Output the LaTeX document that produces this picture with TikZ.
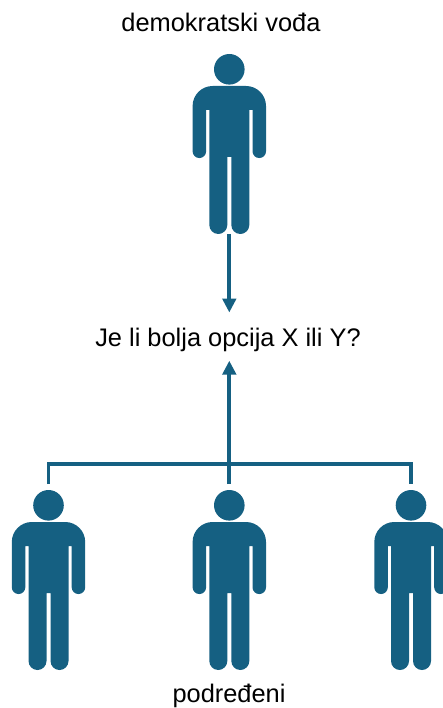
\documentclass[tikz,border=0pt]{standalone}
\usepackage{fontspec}
\setmainfont{Liberation Sans}
\usetikzlibrary{arrows.meta}
\definecolor{persblue}{HTML}{156082}
\tikzset{
  x=1pt,y=1pt,
  person/.pic={
    \fill[persblue] (0,0) circle[radius=15.3pt];
    \fill[persblue] (-16.7,-16.7) -- (16.7,-16.7)
      arc[start angle=90,end angle=0,radius=20pt] -- (36.7,-82)
      arc[start angle=0,end angle=-180,radius=6.75pt] -- (23.2,-40.7) -- (20,-40.7) -- (20,-155.7)
      arc[start angle=0,end angle=-180,radius=9pt] -- (2,-87.7) -- (-2,-87.7) -- (-2,-155.7)
      arc[start angle=0,end angle=-180,radius=9pt] -- (-20,-40.7) -- (-23.2,-40.7) -- (-23.2,-82)
      arc[start angle=0,end angle=-180,radius=6.75pt] -- (-36.7,-36.7)
      arc[start angle=180,end angle=90,radius=20pt] -- cycle;
  },
  label text/.style={inner sep=0pt,outer sep=0pt,font=\fontsize{25.4}{30}\selectfont,text=black},
  slot/.style={inner sep=0pt,outer sep=0pt,minimum width=73.4pt},
  link/.style={draw=persblue,line width=3.2pt},
  shaft/.style={draw=persblue,line width=4pt,-{Triangle[width=13.5pt,length=14pt]}}
}
\begin{document}
\begin{tikzpicture}
\useasboundingbox (0,0) rectangle (443,-708);
\pic at (229.3,-69.3) {person};
\pic at (48.5,-505.3) {person};
\pic at (229.3,-505.3) {person};
\pic at (411,-505.3) {person};
\node[slot,minimum height=180pt] (leader) at (229.3,-144) {};
\node[slot,minimum height=186pt] (subA) at (48.5,-577) {};
\node[slot,minimum height=186pt] (subB) at (229.3,-577) {};
\node[slot,minimum height=186pt] (subC) at (411,-577) {};
\coordinate (bus) at (229.3,-464);
\node[label text,anchor=base] (title) at (221,-31.5) {demokratski vođa};
\node[label text,anchor=base,text height=33.5pt,text depth=14.7pt] (q) at (228,-346) {Je li bolja opcija X ili Y?};
\node[label text,anchor=base] (bottom) at (229,-702.7) {podređeni};
\draw[shaft] (leader.south) -- (q.north -| leader.south);
\draw[shaft] (subB.north) -- (q.south -| subB.north);
\draw[link] (subA.north) |- (bus) -| (subC.north);
\end{tikzpicture}
\end{document}
